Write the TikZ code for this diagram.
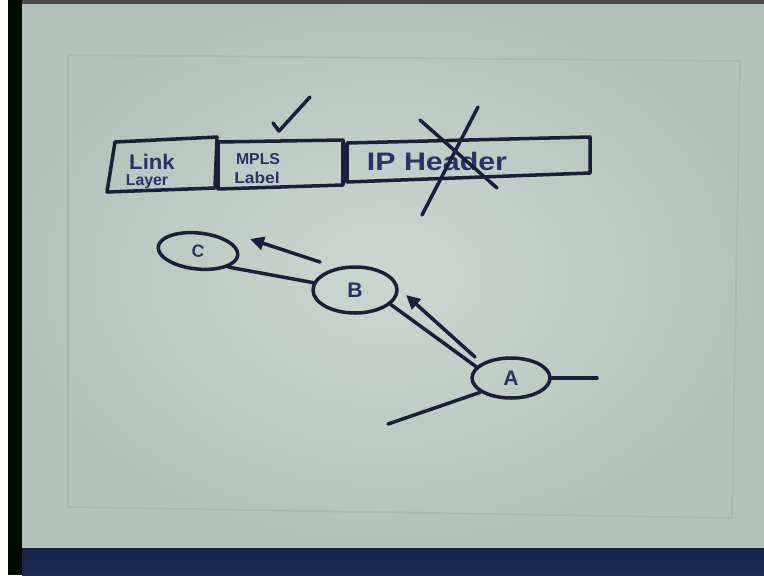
\documentclass[tikz,border=0pt]{standalone}
\usepackage{fontspec}
\setmainfont{Liberation Sans}
\usetikzlibrary{arrows.meta,shapes.geometric}
\definecolor{paperlight}{HTML}{CBD8D1}
\definecolor{paperdark}{HTML}{B2C2BB}
\definecolor{inkc}{HTML}{1B1F3A}
\definecolor{inktext}{HTML}{2A3368}
\definecolor{bandc}{HTML}{1D2B57}
\definecolor{frame}{HTML}{A9B9B2}
\tikzset{
  ink/.style={draw=inkc, line width=2pt, line cap=round, line join=round},
  fieldtext/.style={text=inktext, font=\bfseries, inner sep=0pt},
  router/.style={ellipse, ink, inner sep=0pt, text=inktext, font=\bfseries\large},
  pointer/.style={ink, -{Triangle[length=8pt,width=7.5pt]}}
}
\begin{document}
\begin{tikzpicture}[x=0.02cm,y=-0.02cm]
\useasboundingbox (0,0) rectangle (764,575);
% sheet of paper and its surroundings
\fill[white] (0,0) rectangle (764,575);
\shade[inner color=paperlight, outer color=paperdark] (8,0) rectangle (764,548);
\fill[black!85!green!30!black] (8,0) rectangle (22,575);
\fill[black!70] (22,0) rectangle (764,4);
\shade[top color=bandc!80!black, bottom color=bandc] (22,548) rectangle (764,575);
% faint printed margin
\draw[frame, line width=1pt] (68,55) -- (740,61) -- (732,518) -- (68,507) -- cycle;

% packet: link layer | MPLS label | IP header
\coordinate (l1) at (115,142); \coordinate (l2) at (217,137);
\coordinate (l3) at (215,188); \coordinate (l4) at (107,192);
\coordinate (m1) at (218,142); \coordinate (m2) at (343,140);
\coordinate (m3) at (343,185); \coordinate (m4) at (218,189);
\coordinate (i1) at (347,143); \coordinate (i2) at (590,137);
\coordinate (i3) at (590,173); \coordinate (i4) at (347,182);
\draw[ink] (l1) -- (l2) -- (l3) -- (l4) -- cycle;
\draw[ink] (m1) -- (m2) -- (m3) -- (m4) -- cycle;
\draw[ink] (i1) -- (i2) -- (i3) -- (i4) -- cycle;
\node[fieldtext, font=\bfseries\large, xscale=1.05] (link) at (152,162) {Link};
\node[fieldtext, font=\bfseries\small] (layer) at (147,182) {Layer};
\node[fieldtext, font=\bfseries\small] (mpls) at (258,159) {MPLS};
\node[fieldtext, font=\bfseries\small, xscale=1.1] (label) at (257,178) {Label};
\node[fieldtext, font=\bfseries\Large, xscale=1.2] (ip) at (437,161) {IP Header};

% tick above the label field
\coordinate (t1) at (273,123); \coordinate (t2) at (279,131); \coordinate (t3) at (310,97);
\draw[ink] (t1) -- (t2) -- (t3);
% header struck out
\coordinate (x1) at (420,120); \coordinate (x2) at (497,188);
\coordinate (x3) at (478,107); \coordinate (x4) at (422,215);
\draw[ink] (x1) -- (x2);
\draw[ink] (x3) -- (x4);

% label switched path A -> B -> C
\node[router, font=\bfseries\normalsize, minimum width=1.6cm, minimum height=0.72cm, rotate=-6] (C) at (198,251) {C};
\node[router, minimum width=1.68cm, minimum height=0.92cm] (B) at (355,290) {B};
\node[router, minimum width=1.56cm, minimum height=0.8cm] (A) at (511,378) {A};
\coordinate (aout) at (597,378);
\coordinate (ain) at (388,424);
\draw[ink] (C.-22) -- (B.170);
\draw[ink] (B.-22) -- (A.162);
\draw[ink] (A.east) -- (aout);
\draw[ink] (A.205) -- (ain);

% direction of the label advertisement
\coordinate (p1) at (475,357); \coordinate (p2) at (406,295);
\coordinate (q1) at (320,262); \coordinate (q2) at (250,239);
\draw[pointer] (p1) -- (p2);
\draw[pointer] (q1) -- (q2);
\end{tikzpicture}
\end{document}
